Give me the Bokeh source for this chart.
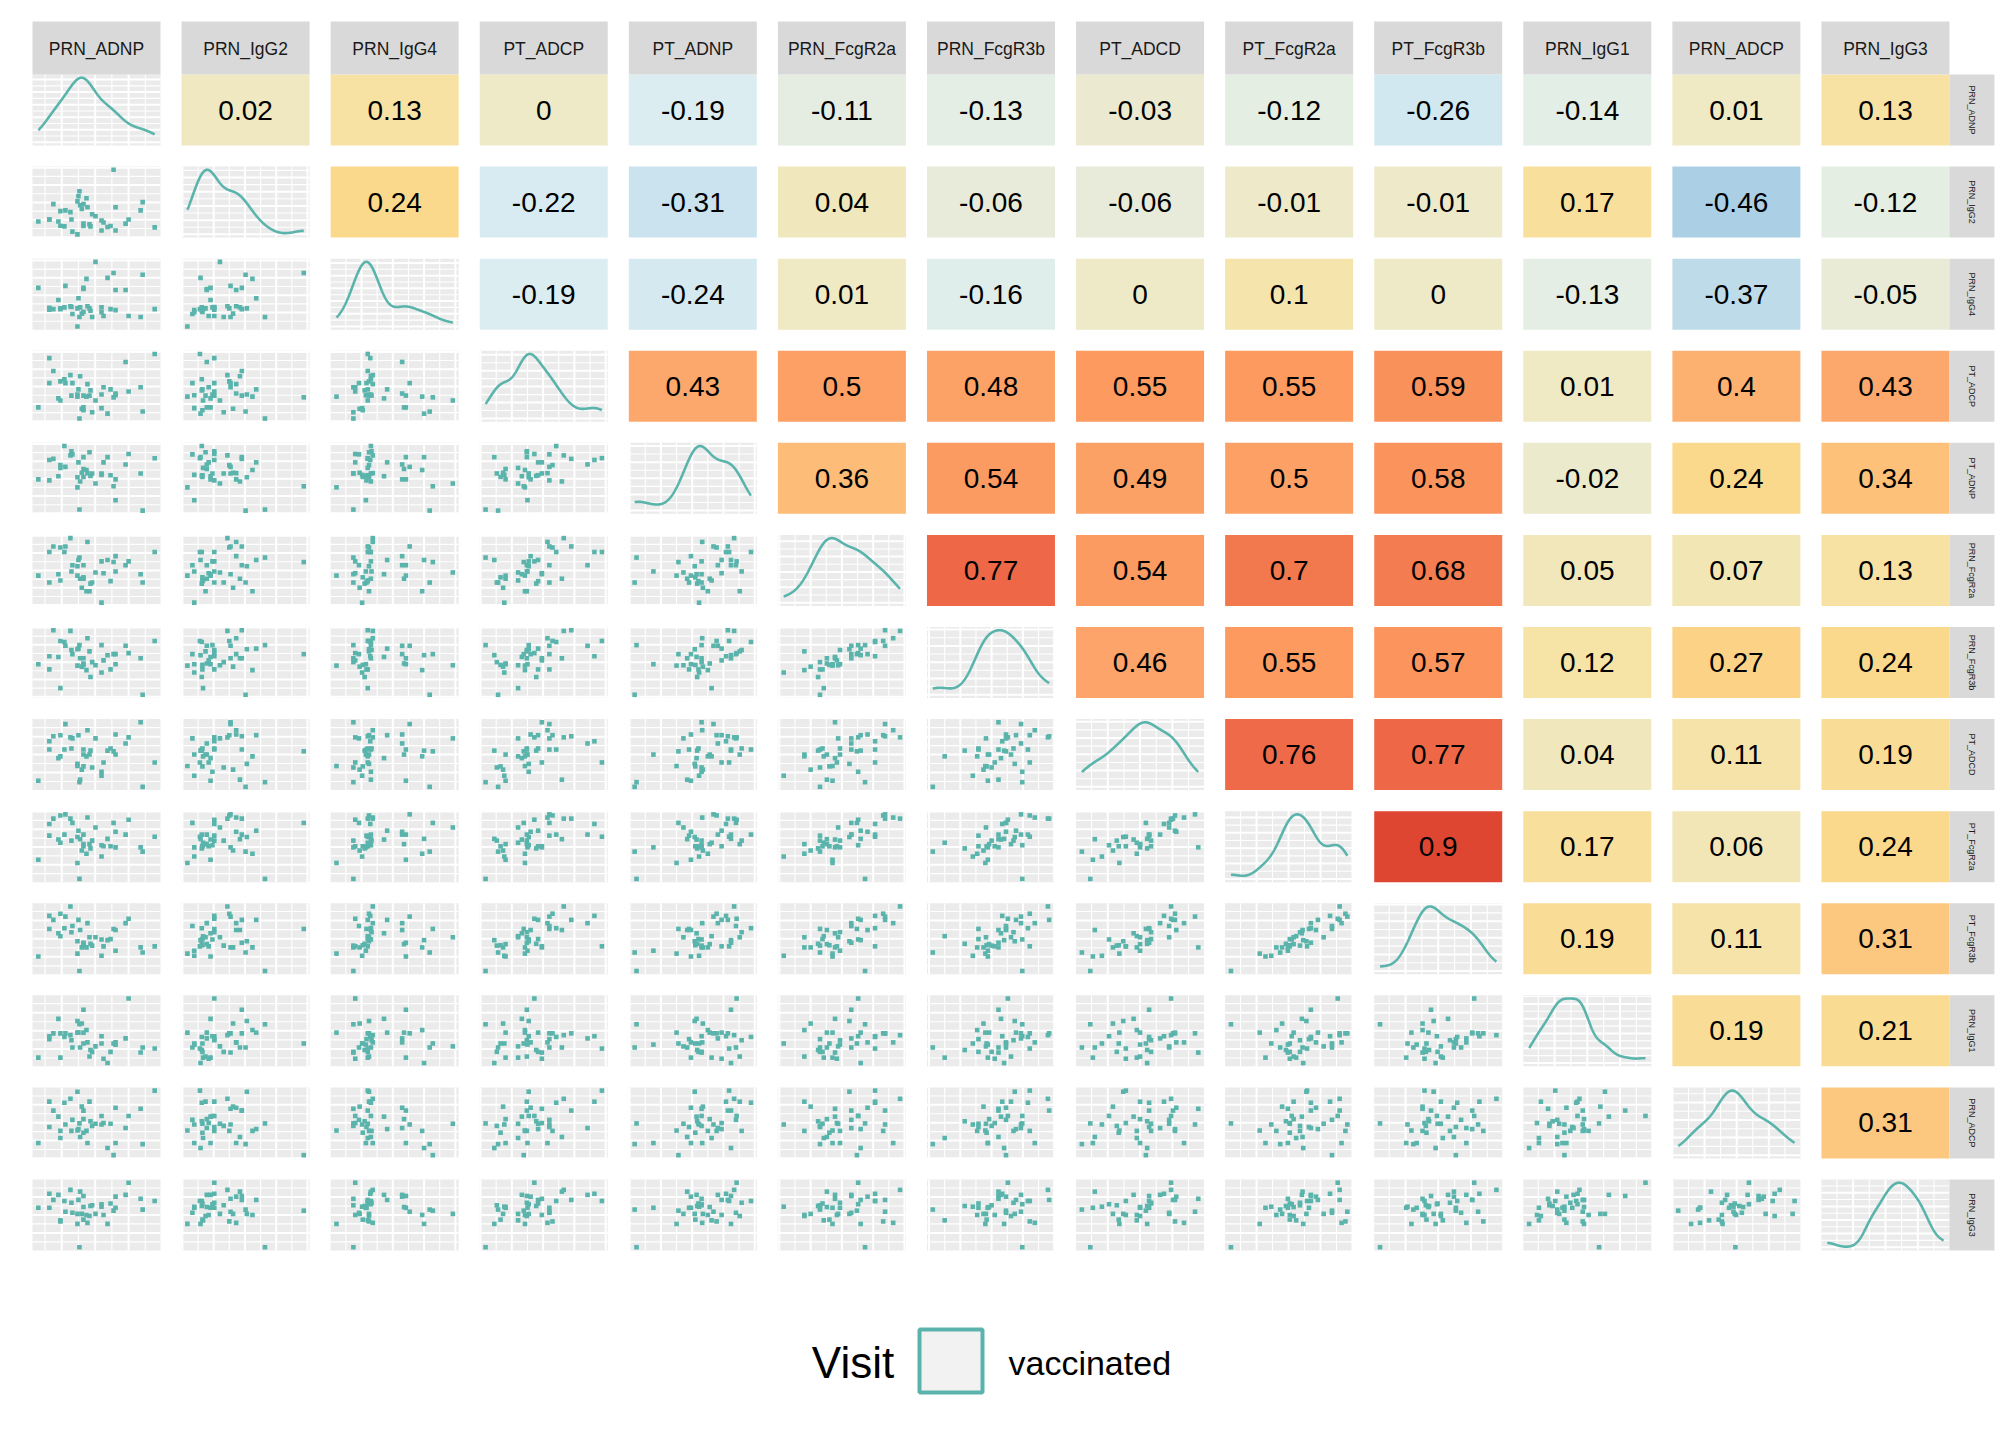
import math
import numpy as np
from bokeh.plotting import figure
from bokeh.models import Range1d, ColumnDataSource
from bokeh.transform import linear_cmap
from bokeh.core.properties import value
from bokeh.embed import file_html
from bokeh.resources import INLINE

# ---------------- data ----------------
variables = ["PRN_ADNP", "PRN_IgG2", "PRN_IgG4", "PT_ADCP", "PT_ADNP", "PRN_FcgR2a",
             "PRN_FcgR3b", "PT_ADCD", "PT_FcgR2a", "PT_FcgR3b", "PRN_IgG1", "PRN_ADCP", "PRN_IgG3"]

PRN_ADNP = [30, 63, 63, 75, 90, 96, 96, 108, 111, 126, 129, 132, 147, 147, 150, 153, 155, 160, 165, 165,
            165, 174, 177, 183, 186, 191, 201, 219, 219, 225, 237, 246, 255, 261, 261, 291, 300, 336, 342, 378]
PRN_IgG2 = [45, 51, 51, 95, 45, 75, 33, 31, 77, 72, 51, 16, 103, 8, 118, 132, 92, 81, 95, 39,
            32, 112, 86, 37, 31, 66, 60, 48, 19, 42, 29, 32, 194, 86, 19, 39, 51, 77, 101, 28]
PRN_IgG4 = [121, 64, 58, 60, 86, 62, 60, 65, 127, 68, 66, 46, 62, 10, 91, 37, 65, 47, 121, 118,
            52, 147, 68, 62, 55, 37, 196, 65, 51, 40, 150, 60, 164, 115, 57, 115, 40, 37, 159, 60]
PT_ADCP = [40, 182, 110, 145, 66, 115, 60, 121, 110, 133, 74, 110, 77, 71, 92, 8, 130, 36, 74, 40,
           32, 71, 107, 74, 89, 26, 60, 77, 38, 98, 22, 92, 69, 80, 75, 171, 86, 98, 28, 194]
PT_ADNP = [98, 154, 95, 157, 107, 139, 131, 194, 134, 167, 179, 170, 104, 75, 147, 11, 92, 117, 162, 128,
           105, 125, 116, 176, 108, 115, 86, 115, 111, 147, 162, 110, 78, 98, 38, 141, 171, 115, 8, 159]
PRN_FcgR2a = [85, 153, 65, 169, 89, 166, 71, 153, 169, 193, 97, 115, 112, 85, 130, 137, 76, 50, 115, 76,
              80, 40, 182, 40, 62, 65, 94, 126, 7, 92, 130, 69, 124, 141, 97, 115, 126, 89, 65, 153]
PRN_FcgR3b = [94, 117, 79, 192, 115, 161, 25, 158, 147, 190, 135, 123, 137, 90, 139, 149, 111, 87, 111, 96,
              92, 77, 169, 131, 57, 100, 91, 149, 70, 105, 120, 79, 123, 123, 94, 147, 126, 111, 6, 161]
PT_ADCD = [27, 137, 114, 151, 90, 154, 95, 114, 185, 148, 117, 145, 74, 68, 154, 23, 30, 58, 114, 100,
           67, 95, 168, 100, 111, 64, 145, 52, 41, 78, 111, 117, 109, 156, 100, 131, 148, 190, 10, 78]
PT_FcgR2a = [64, 165, 132, 180, 121, 189, 112, 135, 192, 180, 118, 168, 128, 55, 146, 10, 122, 90, 135, 108,
             102, 81, 183, 108, 96, 118, 155, 105, 73, 102, 123, 102, 168, 143, 99, 135, 177, 99, 87, 129]
PT_FcgR3b = [51, 163, 127, 152, 115, 169, 107, 129, 161, 189, 118, 135, 93, 59, 152, 11, 124, 76, 89, 85,
             82, 76, 143, 104, 86, 81, 104, 98, 53, 79, 96, 99, 127, 124, 67, 143, 155, 76, 62, 79]
PRN_IgG1 = [26, 85, 77, 93, 133, 93, 26, 83, 93, 88, 74, 54, 127, 95, 95, 118, 54, 120, 158, 95,
            65, 102, 68, 29, 47, 42, 57, 85, 65, 23, 11, 42, 65, 68, 62, 79, 189, 40, 54, 51]
PRN_ADCP = [43, 159, 88, 134, 117, 77, 57, 156, 95, 167, 77, 108, 187, 78, 82, 98, 60, 145, 134, 110,
            72, 77, 43, 159, 104, 91, 97, 119, 95, 99, 29, 97, 9, 142, 43, 85, 119, 139, 40, 190]
PRN_IgG3 = [120, 159, 120, 142, 156, 82, 85, 139, 109, 170, 134, 106, 103, 75, 142, 10, 165, 103, 153, 122,
            87, 100, 78, 97, 125, 127, 103, 130, 123, 100, 75, 132, 112, 151, 120, 156, 190, 145, 115, 139]

series = [PRN_ADNP, PRN_IgG2, PRN_IgG4, PT_ADCP, PT_ADNP, PRN_FcgR2a, PRN_FcgR3b,
          PT_ADCD, PT_FcgR2a, PT_FcgR3b, PRN_IgG1, PRN_ADCP, PRN_IgG3]

# correlations shown in the upper triangle (row variable vs the columns to its right)
corr_PRN_ADNP = [0.02, 0.13, 0, -0.19, -0.11, -0.13, -0.03, -0.12, -0.26, -0.14, 0.01, 0.13]
corr_PRN_IgG2 = [0.24, -0.22, -0.31, 0.04, -0.06, -0.06, -0.01, -0.01, 0.17, -0.46, -0.12]
corr_PRN_IgG4 = [-0.19, -0.24, 0.01, -0.16, 0, 0.1, 0, -0.13, -0.37, -0.05]
corr_PT_ADCP = [0.43, 0.5, 0.48, 0.55, 0.55, 0.59, 0.01, 0.4, 0.43]
corr_PT_ADNP = [0.36, 0.54, 0.49, 0.5, 0.58, -0.02, 0.24, 0.34]
corr_PRN_FcgR2a = [0.77, 0.54, 0.7, 0.68, 0.05, 0.07, 0.13]
corr_PRN_FcgR3b = [0.46, 0.55, 0.57, 0.12, 0.27, 0.24]
corr_PT_ADCD = [0.76, 0.77, 0.04, 0.11, 0.19]
corr_PT_FcgR2a = [0.9, 0.17, 0.06, 0.24]
corr_PT_FcgR3b = [0.19, 0.11, 0.31]
corr_PRN_IgG1 = [0.19, 0.21]
corr_PRN_ADCP = [0.31]
corr_rows = [corr_PRN_ADNP, corr_PRN_IgG2, corr_PRN_IgG4, corr_PT_ADCP, corr_PT_ADNP, corr_PRN_FcgR2a,
             corr_PRN_FcgR3b, corr_PT_ADCD, corr_PT_FcgR2a, corr_PT_FcgR3b, corr_PRN_IgG1, corr_PRN_ADCP]

legend_title = "Visit"
legend_label = "vaccinated"

# colour scale anchors for the correlation tiles
anchor_r = [-1.0, -0.46, -0.37, -0.30, -0.20, -0.13, -0.05, 0.0, 0.05, 0.13, 0.24, 0.36, 0.43, 0.55, 0.70, 0.77, 0.90, 1.0]
anchor_rgb = [(120, 170, 210), (171, 207, 228), (190, 219, 234), (204, 228, 239), (219, 237, 243),
              (228, 238, 229), (233, 235, 215), (238, 233, 198), (241, 231, 186), (247, 226, 163),
              (251, 217, 140), (253, 188, 119), (252, 168, 108), (252, 154, 96), (242, 120, 77),
              (238, 104, 72), (222, 70, 50), (210, 50, 40)]

# ---------------- styling / layout (page pixel units, y downwards) ----------------
TEAL = "#5AB4AC"
PANEL_BG = "#EBEBEB"
STRIP_BG = "#D9D9D9"
FONT = "Liberation Sans"
N = len(variables)
W, H = 2000, 1424
X0, DX, PW = 32.0, 149.08, 128.0
Y0, DY, PH = 74.0, 92.08, 71.0
STRIP_TOP, STRIP_H = 21.0, 53.0
RSTRIP_W = 45.0


def fy(y):
    # page y (downwards) -> plot y (upwards)
    return H - y


def interp_color(v):
    v = max(anchor_r[0], min(anchor_r[-1], v))
    for k in range(len(anchor_r) - 1):
        a, b = anchor_r[k], anchor_r[k + 1]
        if a <= v <= b:
            t = 0 if b == a else (v - a) / (b - a)
            c = [round(anchor_rgb[k][i] + t * (anchor_rgb[k + 1][i] - anchor_rgb[k][i])) for i in range(3)]
            return "#%02x%02x%02x" % tuple(c)
    return "#%02x%02x%02x" % anchor_rgb[-1]


palette = [interp_color(-1 + i * 0.01) for i in range(201)]


def nice_step(span, target=4.5):
    raw = span / target
    mag = 10 ** math.floor(math.log10(raw))
    best = None
    for m in (1, 2, 2.5, 5, 10):
        s = m * mag
        d = abs(span / s - target)
        if best is None or d < best[0]:
            best = (d, s)
    return best[1]


def breaks(lo, hi):
    step = nice_step(hi - lo)
    majors, minors = [], []
    v = math.ceil(lo / step) * step
    while v <= hi + 1e-9:
        majors.append(v)
        v += step
    v = math.ceil(lo / step) * step - step / 2
    while v <= hi:
        if v >= lo:
            minors.append(v)
        v += step
    return majors, minors


def expand(lo, hi):
    span = hi - lo
    return lo - 0.05 * span, hi + 0.05 * span


def kde(vals):
    x = np.asarray(vals, float)
    n = len(x)
    sd = x.std(ddof=1)
    q75, q25 = np.percentile(x, [75, 25])
    bw = 0.9 * min(sd, (q75 - q25) / 1.34) * n ** -0.2
    grid = np.linspace(x.min(), x.max(), 512)
    dens = np.exp(-0.5 * ((grid[:, None] - x[None, :]) / bw) ** 2).sum(1) / (n * bw * math.sqrt(2 * math.pi))
    return grid, dens


xranges = [expand(min(s), max(s)) for s in series]


def px(v, lo, hi, c):
    return X0 + c * DX + (v - lo) / (hi - lo) * PW


def py(v, lo, hi, r):
    return fy(Y0 + r * DY + PH - (v - lo) / (hi - lo) * PH)


p = figure(width=W, height=H, x_range=Range1d(0, W), y_range=Range1d(0, H),
           output_backend="svg", toolbar_location=None, min_border=0,
           x_axis_location=None, y_axis_location=None)
p.grid.visible = False
p.outline_line_color = None
p.background_fill_color = "white"
p.border_fill_color = "white"

bg = dict(left=[], right=[], top=[], bottom=[])
cor = dict(left=[], right=[], top=[], bottom=[], r=[], label=[], cx=[], cy=[])
maj = dict(x0=[], y0=[], x1=[], y1=[])
mnr = dict(x0=[], y0=[], x1=[], y1=[])
pts = dict(x=[], y=[])
dens_xs, dens_ys = [], []

for r in range(N):
    for c in range(N):
        L = X0 + c * DX
        T = Y0 + r * DY
        if r < c:
            v = corr_rows[r][c - r - 1]
            cor["left"].append(L); cor["right"].append(L + PW)
            cor["top"].append(fy(T)); cor["bottom"].append(fy(T + PH))
            cor["r"].append(v)
            cor["label"].append(f"{round(v, 2):g}")
            cor["cx"].append(L + PW / 2); cor["cy"].append(fy(T + PH / 2))
            continue
        bg["left"].append(L); bg["right"].append(L + PW)
        bg["top"].append(fy(T)); bg["bottom"].append(fy(T + PH))
        xlo, xhi = xranges[c]
        if r == c:
            g, d = kde(series[c])
            ylo, yhi = expand(0.0, float(d.max()))
            dens_xs.append([px(a, xlo, xhi, c) for a in g])
            dens_ys.append([py(b, ylo, yhi, r) for b in d])
        else:
            ylo, yhi = xranges[r]
            for a, b in zip(series[c], series[r]):
                pts["x"].append(px(a, xlo, xhi, c))
                pts["y"].append(py(b, ylo, yhi, r))
        mx, nx = breaks(xlo, xhi)
        my, ny = breaks(ylo, yhi)
        for target, vals, vertical in ((mnr, nx, True), (mnr, ny, False), (maj, mx, True), (maj, my, False)):
            for v in vals:
                if vertical:
                    xx = px(v, xlo, xhi, c)
                    target["x0"].append(xx); target["x1"].append(xx)
                    target["y0"].append(fy(T)); target["y1"].append(fy(T + PH))
                else:
                    yy = py(v, ylo, yhi, r)
                    target["x0"].append(L); target["x1"].append(L + PW)
                    target["y0"].append(yy); target["y1"].append(yy)

# panel backgrounds and grid
p.quad(source=ColumnDataSource(bg), left="left", right="right", top="top", bottom="bottom",
       fill_color=PANEL_BG, line_color=None)
p.segment(source=ColumnDataSource(mnr), x0="x0", y0="y0", x1="x1", y1="y1", line_color="white", line_width=1.1)
p.segment(source=ColumnDataSource(maj), x0="x0", y0="y0", x1="x1", y1="y1", line_color="white", line_width=2.0)

# scatter points and densities
p.scatter(source=ColumnDataSource(pts), x="x", y="y", marker="square", size=4.6,
          fill_color=TEAL, line_color=None)
p.multi_line(xs=dens_xs, ys=dens_ys, line_color=TEAL, line_width=2.6)

# correlation tiles
csrc = ColumnDataSource(cor)
p.quad(source=csrc, left="left", right="right", top="top", bottom="bottom",
       fill_color=linear_cmap("r", palette, low=-1.005, high=1.005), line_color=None)
p.text(source=csrc, x="cx", y="cy", text="label", text_align="center", text_baseline="middle",
       text_font=value(FONT), text_font_size="28px", text_color="black")

# top strips
ts = dict(left=[X0 + c * DX for c in range(N)], right=[X0 + c * DX + PW for c in range(N)],
          top=[fy(STRIP_TOP)] * N, bottom=[fy(STRIP_TOP + STRIP_H)] * N,
          cx=[X0 + c * DX + PW / 2 for c in range(N)], cy=[fy(STRIP_TOP + STRIP_H / 2 + 1)] * N, label=variables)
tsrc = ColumnDataSource(ts)
p.quad(source=tsrc, left="left", right="right", top="top", bottom="bottom", fill_color=STRIP_BG, line_color=None)
p.text(source=tsrc, x="cx", y="cy", text="label", text_align="center", text_baseline="middle",
       text_font=value(FONT), text_font_size="17.5px", text_color="#1A1A1A")

# right strips
RX = X0 + (N - 1) * DX + PW
rs = dict(left=[RX] * N, right=[RX + RSTRIP_W] * N,
          top=[fy(Y0 + r * DY) for r in range(N)], bottom=[fy(Y0 + r * DY + PH) for r in range(N)],
          cx=[RX + RSTRIP_W / 2] * N, cy=[fy(Y0 + r * DY + PH / 2) for r in range(N)], label=variables)
rsrc = ColumnDataSource(rs)
p.quad(source=rsrc, left="left", right="right", top="top", bottom="bottom", fill_color=STRIP_BG, line_color=None)
p.text(source=rsrc, x="cx", y="cy", text="label", angle=-math.pi / 2, text_align="center", text_baseline="middle",
       text_font=value(FONT), text_font_size="9px", text_color="#1A1A1A")

# legend
p.text(x=[852.5], y=[fy(1362)], text=[legend_title], text_align="center", text_baseline="middle",
       text_font=value(FONT), text_font_size="44px", text_color="black")
p.quad(left=[919], right=[982], top=[fy(1329)], bottom=[fy(1392)], fill_color="#F2F2F2",
       line_color=TEAL, line_width=4)
p.text(x=[1008], y=[fy(1362)], text=[legend_label], text_align="left", text_baseline="middle",
       text_font=value(FONT), text_font_size="34px", text_color="black")

open("out.html", "w").write(file_html(p, INLINE))
